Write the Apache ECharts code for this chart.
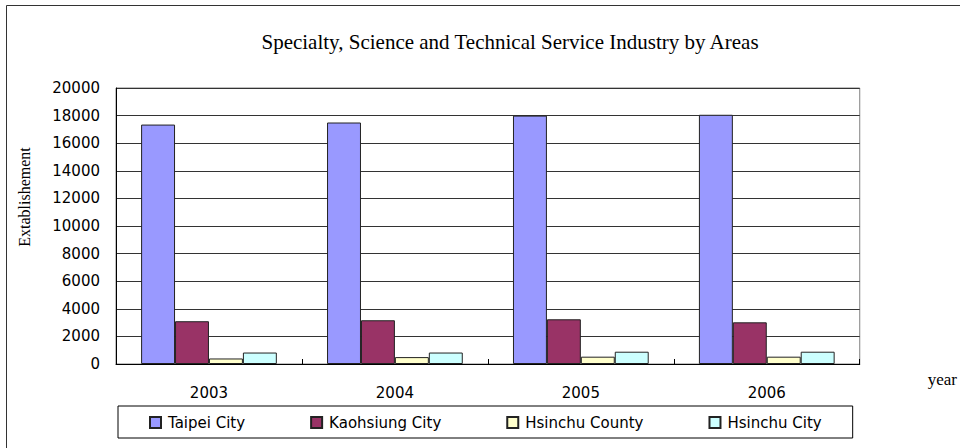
<!DOCTYPE html>
<html>
<head>
<meta charset="utf-8">
<script src="https://cdn.jsdelivr.net/npm/echarts@6/dist/echarts.min.js"></script>
<style>
html,body{margin:0;padding:0;background:#fff;}
#c{width:960px;height:448px;}
</style>
</head>
<body>
<div id="c"></div>
<script>
var categories = ['2003', '2004', '2005', '2006'];
var seriesNames = ['Taipei City', 'Kaohsiung City', 'Hsinchu County', 'Hsinchu City'];
var taipei = [17350, 17500, 18000, 18060];
var kaohsiung = [3100, 3170, 3240, 3020];
var hsinchuCounty = [400, 500, 530, 530];
var hsinchuCity = [830, 830, 890, 890];
var colors = ['#9999FF', '#993366', '#FFFFCC', '#CCFFFF'];
var yTicks = {min: 0, max: 20000, interval: 2000};

var values = [taipei, kaohsiung, hsinchuCounty, hsinchuCity];
var chart = echarts.init(document.getElementById('c'), null, {renderer: 'svg'});

var series = seriesNames.map(function (name, i) {
  return {
    name: name,
    type: 'bar',
    data: values[i],
    barGap: '0%',
    barCategoryGap: '27%',
    itemStyle: {color: colors[i], borderColor: '#222', borderWidth: 1},
    emphasis: {disabled: true}
  };
});

chart.setOption({
  animation: false,
  backgroundColor: '#fff',
  title: {
    text: 'Specialty, Science and Technical Service Industry by Areas',
    left: 505,
    textAlign: 'center',
    top: 26,
    textStyle: {fontFamily: 'Liberation Serif', fontSize: 21, fontWeight: 'normal', color: '#000'}
  },
  graphic: [{
    type: 'rect',
    shape: {x: 6.5, y: 5.5, width: 1200, height: 600},
    style: {fill: 'none', stroke: '#333', lineWidth: 1},
    silent: true
  }],
  legend: {
    data: seriesNames,
    left: 118,
    top: 406,
    orient: 'horizontal',
    itemWidth: 11,
    itemHeight: 11,
    itemGap: 65,
    padding: [9, 31, 8, 31],
    borderColor: '#000',
    borderWidth: 1,
    textStyle: {fontFamily: 'DejaVu Sans', fontSize: 15, color: '#000', padding: [2, 0, 0, 2]},
    icon: 'rect'
  },
  grid: {left: 116, right: 98, top: 88, bottom: 84, show: true, borderColor: '#808080', borderWidth: 1, containLabel: false},
  xAxis: {
    type: 'category',
    data: categories,
    name: 'year',
    nameLocation: 'end',
    nameGap: 68,
    nameTextStyle: {fontFamily: 'Liberation Serif', fontSize: 17, color: '#000', align: 'left', verticalAlign: 'top', lineHeight: 30},
    axisLine: {lineStyle: {color: '#000', width: 1}},
    axisTick: {show: true, inside: true, length: 5, lineStyle: {color: '#000'}},
    axisLabel: {fontFamily: 'DejaVu Sans', fontSize: 15, color: '#000', margin: 21},
    splitLine: {show: false}
  },
  yAxis: {
    type: 'value',
    min: yTicks.min,
    max: yTicks.max,
    interval: yTicks.interval,
    name: 'Extablishement',
    nameLocation: 'middle',
    nameGap: 84,
    nameTextStyle: {fontFamily: 'Liberation Serif', fontSize: 16, color: '#000', padding: [0, 0, 0, 58]},
    axisLine: {show: true, lineStyle: {color: '#000', width: 1}},
    axisTick: {show: false},
    axisLabel: {fontFamily: 'DejaVu Sans', fontSize: 15, color: '#000', margin: 16, formatter: function (v) { return String(v); }},
    splitLine: {show: true, lineStyle: {color: '#333', width: 1}}
  },
  series: series
});
</script>
</body>
</html>
